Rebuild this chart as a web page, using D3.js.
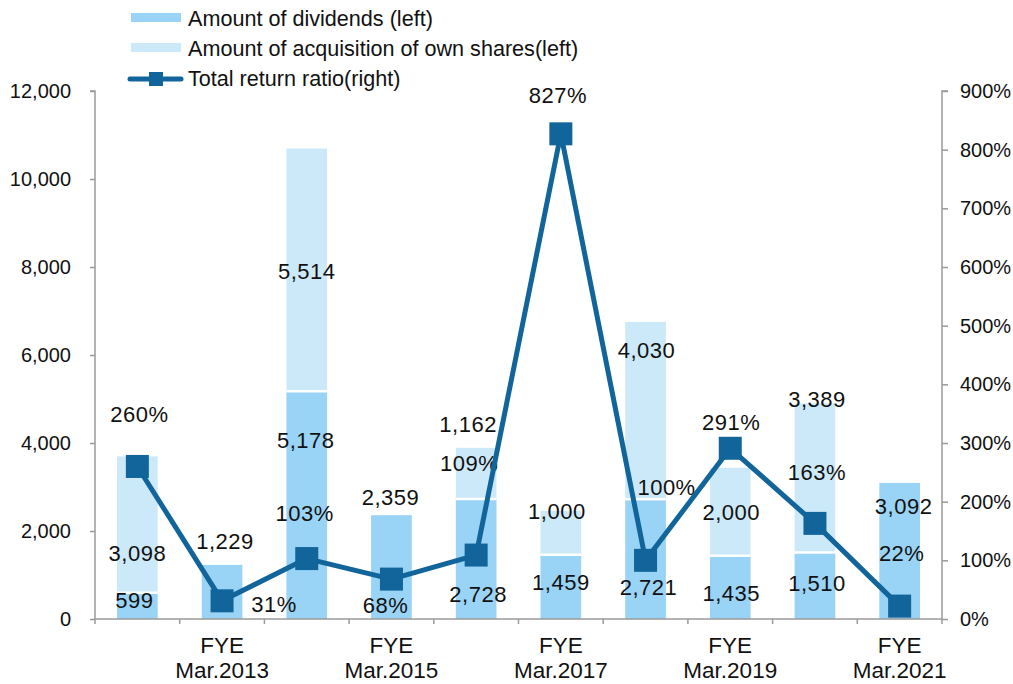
<!DOCTYPE html>
<html>
<head>
<meta charset="utf-8">
<script src="https://cdn.jsdelivr.net/npm/d3@7/dist/d3.min.js"></script>
<style>
  html, body { margin: 0; padding: 0; background: #fff; }
  svg { display: block; font-family: "Liberation Sans", Arial, sans-serif; }
</style>
</head>
<body>
<svg id="chart" width="1013" height="684"></svg>
<script>
// ---- data ----
const categories = ["FYE Mar.2012", "FYE Mar.2013", "FYE Mar.2014", "FYE Mar.2015", "FYE Mar.2016",
                    "FYE Mar.2017", "FYE Mar.2018", "FYE Mar.2019", "FYE Mar.2020", "FYE Mar.2021"];
const dividends   = [599, 1229, 5178, 2359, 2728, 1459, 2721, 1435, 1510, 3092];
const acquisition = [3098, 0, 5514, 0, 1162, 1000, 4030, 2000, 3389, 0];
const returnRatio = [260, 31, 103, 68, 109, 827, 100, 291, 163, 22];
const leftTicks  = [0, 2000, 4000, 6000, 8000, 10000, 12000];
const rightTicks = [0, 100, 200, 300, 400, 500, 600, 700, 800, 900];
const seriesNames = ["Amount of dividends (left)", "Amount of acquisition of own shares(left)", "Total return ratio(right)"];

// label nudges (pixels, relative to anchors)
const divLabelOff = [[-3, 7], [3, -24], [-1, 49], [-1, -18], [2, 95], [0, 27], [3, 88], [1, 37], [2, 31], [4, 23]];
const acqLabelOff = [[0, 97], null, [0, 123], null, [-8, -24], [-4, 0], [1, 28], [1, 44], [2, -4], null];
const ratioLabelOff = [[2, -52], [52, 3], [-2, -45], [-6, 26], [-7, -92], [-3, -39], [21, -73], [1, -26], [2, -51], [2, -53]];

// ---- styles ----
const C_DIV = "#99D3F5", C_ACQ = "#CCE9FA", C_LINE = "#11659A", C_AXIS = "#9a9a9a";
const margin = { left: 95, right: 1013 - 942, top: 91, bottom: 684 - 619 };
const W = 1013, H = 684;

const svg = d3.select("#chart");
const fmt = d3.format(",");

const x = d3.scaleBand().domain(categories).range([margin.left, W - margin.right]).padding(0);
const barW = x.bandwidth() * 0.48;
const y = d3.scaleLinear().domain([0, 12000]).range([H - margin.bottom, margin.top]);
const yR = d3.scaleLinear().domain([0, 900]).range([H - margin.bottom, margin.top]);
const cx = c => x(c) + x.bandwidth() / 2;

// ---- bars ----
const bars = svg.append("g");
bars.selectAll("rect.div").data(categories).join("rect")
  .attr("class", "div")
  .attr("x", c => cx(c) - barW / 2).attr("width", barW)
  .attr("y", (c, i) => y(dividends[i])).attr("height", (c, i) => y(0) - y(dividends[i]))
  .attr("fill", C_DIV);
bars.selectAll("rect.acq").data(categories).join("rect")
  .attr("class", "acq")
  .attr("x", c => cx(c) - barW / 2).attr("width", barW)
  .attr("y", (c, i) => y(dividends[i] + acquisition[i]))
  .attr("height", (c, i) => y(dividends[i]) - y(dividends[i] + acquisition[i]))
  .attr("fill", C_ACQ);
bars.selectAll("line.sep").data(categories.filter((c, i) => acquisition[i] > 0)).join("line")
  .attr("class", "sep")
  .attr("x1", c => cx(c) - barW / 2).attr("x2", c => cx(c) + barW / 2)
  .attr("y1", c => y(dividends[categories.indexOf(c)])).attr("y2", c => y(dividends[categories.indexOf(c)]))
  .attr("stroke", "#fff").attr("stroke-width", 2.5);

// ---- axes ----
const axisG = svg.append("g");
const yAxis = d3.axisLeft(y).tickValues(leftTicks).tickSize(5).tickPadding(19).tickFormat(fmt);
const gL = axisG.append("g").attr("transform", `translate(${margin.left},0)`).call(yAxis);
const yAxisR = d3.axisRight(yR).tickValues(rightTicks).tickSize(6).tickPadding(12).tickFormat(d => d + "%");
const gR = axisG.append("g").attr("transform", `translate(${W - margin.right},0)`).call(yAxisR);
const boundaries = categories.map(c => x(c)).concat([W - margin.right]);
const gX = axisG.append("g");
gX.append("line").attr("x1", margin.left).attr("x2", W - margin.right)
  .attr("y1", y(0)).attr("y2", y(0)).attr("stroke", C_AXIS).attr("stroke-width", 1.5);
gX.selectAll("line.t").data(boundaries).join("line").attr("class", "t")
  .attr("x1", d => d).attr("x2", d => d).attr("y1", y(0)).attr("y2", y(0) + 5)
  .attr("stroke", C_AXIS).attr("stroke-width", 1.5);
[gL, gR].forEach(g => {
  g.select(".domain").attr("stroke", C_AXIS).attr("stroke-width", 1.5);
  g.selectAll(".tick line").attr("stroke", C_AXIS).attr("stroke-width", 1.5);
  g.selectAll(".tick text").attr("font-size", 20).attr("fill", "#111")
    .attr("font-family", "'Liberation Sans', Arial, sans-serif");
});
gL.select(".domain").attr("d", `M-5,${y(12000)}H0V${y(0)}`);
gR.select(".domain").attr("d", `M6,${y(12000)}H0V${y(0)}`);

// x labels (every other category)
const xl = gX.selectAll("text.xl").data(categories.filter((c, i) => i % 2 === 1)).join("text")
  .attr("class", "xl").attr("text-anchor", "middle").attr("font-size", 22.5).attr("fill", "#111");
xl.append("tspan").attr("x", c => cx(c)).attr("y", 653).text(c => c.split(" ")[0]);
xl.append("tspan").attr("x", c => cx(c)).attr("y", 678).text(c => c.split(" ")[1]);

// ---- data labels ----
const lab = svg.append("g").attr("font-size", 22).attr("fill", "#111").attr("text-anchor", "middle")
  .attr("letter-spacing", 0.5);
categories.forEach((c, i) => {
  const o = divLabelOff[i];
  lab.append("text").attr("x", cx(c) + o[0]).attr("y", y(dividends[i]) + o[1]).attr("dy", "0.36em")
    .text(fmt(dividends[i]));
  if (acquisition[i] > 0 && acqLabelOff[i]) {
    const a = acqLabelOff[i];
    lab.append("text").attr("x", cx(c) + a[0]).attr("y", y(dividends[i] + acquisition[i]) + a[1]).attr("dy", "0.36em")
      .text(fmt(acquisition[i]));
  }
  const r = ratioLabelOff[i];
  lab.append("text").attr("x", cx(c) + r[0]).attr("y", yR(returnRatio[i]) + r[1]).attr("dy", "0.36em")
    .text(returnRatio[i] + "%");
});

// ---- line ----
const line = d3.line().x((d, i) => cx(categories[i])).y(d => yR(d));
svg.append("path").datum(returnRatio).attr("d", line)
  .attr("fill", "none").attr("stroke", C_LINE).attr("stroke-width", 5).attr("stroke-linejoin", "round");
const ms = 23;
svg.append("g").selectAll("rect").data(returnRatio).join("rect")
  .attr("x", (d, i) => cx(categories[i]) - ms / 2).attr("y", d => yR(d) - ms / 2)
  .attr("width", ms).attr("height", ms).attr("fill", C_LINE);

// ---- legend ----
const lg = svg.append("g").attr("font-size", 21.6).attr("fill", "#111");
lg.append("rect").attr("x", 131).attr("y", 13).attr("width", 50).attr("height", 9).attr("fill", C_DIV);
lg.append("text").attr("x", 188).attr("y", 25.5).text(seriesNames[0]);
lg.append("rect").attr("x", 131).attr("y", 43).attr("width", 50).attr("height", 9).attr("fill", C_ACQ);
lg.append("text").attr("x", 188).attr("y", 55.5).text(seriesNames[1]);
lg.append("line").attr("x1", 130).attr("x2", 181).attr("y1", 79).attr("y2", 79)
  .attr("stroke", C_LINE).attr("stroke-width", 5).attr("stroke-linecap", "round");
lg.append("rect").attr("x", 149).attr("y", 72).attr("width", 14).attr("height", 14).attr("fill", C_LINE);
lg.append("text").attr("x", 188).attr("y", 85.5).text(seriesNames[2]);
</script>
</body>
</html>
